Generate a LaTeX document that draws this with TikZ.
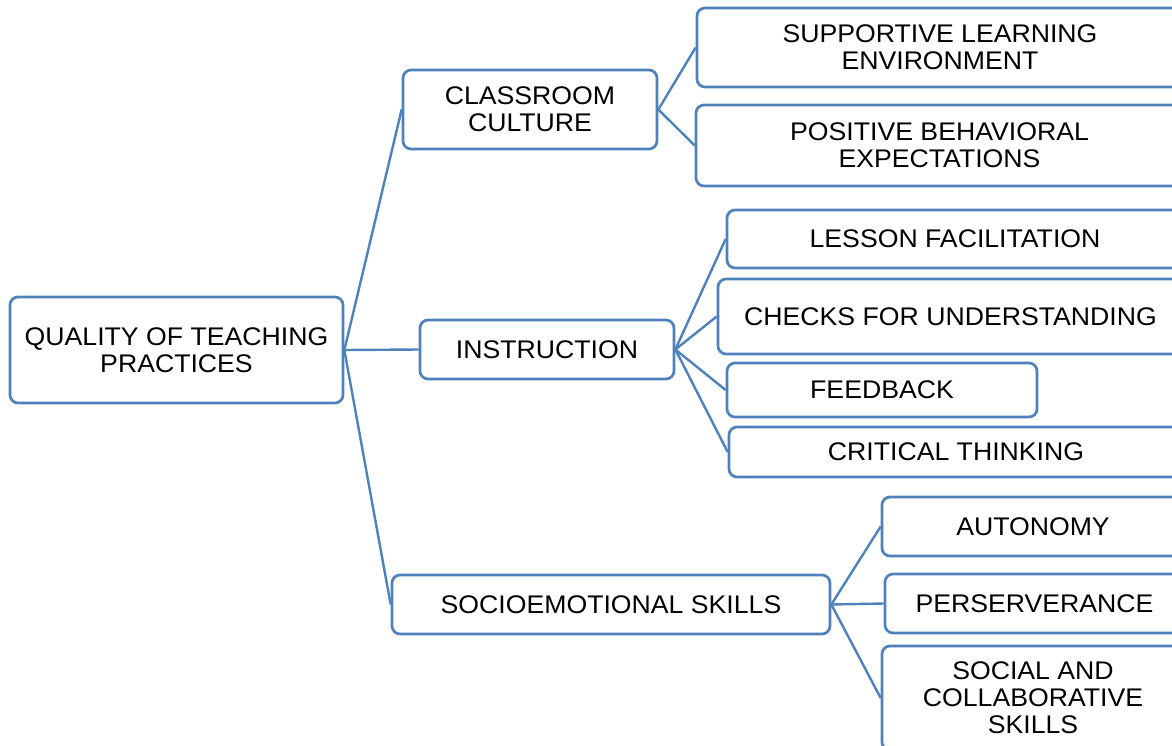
\documentclass[tikz,border=0pt]{standalone}
\usepackage{fontspec}
\setmainfont{Liberation Sans}[FakeStretch=1.045]
\definecolor{edgeblue}{RGB}{79,129,189}
\begin{document}
\begin{tikzpicture}[x=1pt,y=-1pt,
  box/.style={draw=edgeblue, line width=2.7pt, rounded corners=8pt, fill=white,
    align=center, inner sep=0pt, font=\fontsize{25.5}{27}\selectfont},
  link/.style={draw=edgeblue, line width=2.4pt}]
\useasboundingbox (0,0) rectangle (1172,745);
\clip (0,0) rectangle (1172,745);
\node[box, minimum width=333pt, minimum height=106pt] (root) at (176.5,350) {QUALITY OF TEACHING\\PRACTICES};
\node[box, minimum width=254pt, minimum height=79pt] (cc) at (530,109.5) {CLASSROOM\\CULTURE};
\node[box, minimum width=254pt, minimum height=59pt] (ins) at (547,349.5) {INSTRUCTION};
\node[box, minimum width=438pt, minimum height=59pt] (soc) at (611,604.5) {SOCIOEMOTIONAL SKILLS};
\node[box, minimum width=486pt, minimum height=79pt] (sle) at (940,47.5) {SUPPORTIVE LEARNING\\ENVIRONMENT};
\node[box, minimum width=487pt, minimum height=81pt] (pbe) at (939.5,145.5) {POSITIVE BEHAVIORAL\\EXPECTATIONS};
\node[box, minimum width=456pt, minimum height=58pt] (lf) at (955,239) {LESSON FACILITATION};
\node[box, minimum width=465pt, minimum height=75pt] (cfu) at (950.5,316.5) {CHECKS FOR UNDERSTANDING};
\node[box, minimum width=310pt, minimum height=54pt] (fb) at (882,390) {FEEDBACK};
\node[box, minimum width=454pt, minimum height=50pt] (ct) at (956,452) {CRITICAL THINKING};
\node[box, minimum width=302pt, minimum height=59pt] (aut) at (1033,526.5) {AUTONOMY};
\node[box, minimum width=299pt, minimum height=59pt] (per) at (1034.5,603.5) {PERSERVERANCE};
\node[box, minimum width=302pt, minimum height=104pt] (sac) at (1033,698) {SOCIAL AND\\COLLABORATIVE\\SKILLS};
\draw[link] (root.east) -- (cc.west);
\draw[link] (root.east) -- (ins.west);
\draw[link] (root.east) -- (soc.west);
\draw[link] (cc.east) -- (sle.west);
\draw[link] (cc.east) -- (pbe.west);
\draw[link] (ins.east) -- (lf.west);
\draw[link] (ins.east) -- (cfu.west);
\draw[link] (ins.east) -- (fb.west);
\draw[link] (ins.east) -- (ct.west);
\draw[link] (soc.east) -- (aut.west);
\draw[link] (soc.east) -- (per.west);
\draw[link] (soc.east) -- (sac.west);
\end{tikzpicture}
\end{document}
